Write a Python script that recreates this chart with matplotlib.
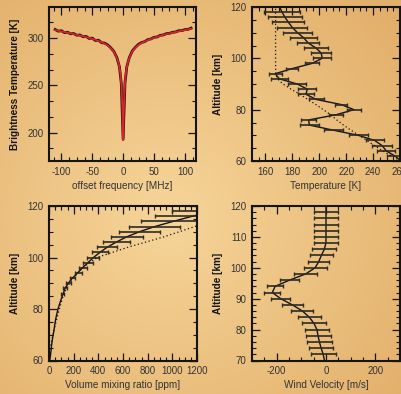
import numpy as np
import matplotlib
matplotlib.use("Agg")
import matplotlib.pyplot as plt
from matplotlib.ticker import MultipleLocator, AutoMinorLocator

plt.rcParams["font.family"] = ["Liberation Sans", "DejaVu Sans"]
plt.rcParams["axes.unicode_minus"] = False

# ── spectrum (top left) ──────────────────────────────────────────────────────
obs_freq = [-110, -105, -100, -95, -90, -85, -80, -75, -70, -65, -60, -55, -50,
            -45, -40, -35, -30, -25, -20, -15, -10, -6, -3, 0, 3, 6,
            10, 15, 20, 25, 30, 35, 40, 45, 50, 55, 60, 65, 70, 75, 80, 85,
            90, 95, 100, 105, 110]
obs_tb = [309.2, 307.4, 307.9, 305.9, 306.3, 304.6, 304.9, 303.1, 303.4, 301.6,
          301.9, 299.7, 300.1, 297.6, 297.9, 295.3, 294.8, 292.9, 289.9, 285.9,
          279.3, 269.8, 252.5, 193.0, 252.4, 269.9,
          279.4, 286.6, 290.4, 293.6, 295.4, 296.4, 298.5, 299.2, 300.9, 301.3,
          303.0, 303.4, 304.8, 305.1, 306.2, 306.6, 307.9, 308.0, 309.1, 309.3,
          310.6]
fit_freq = [-110, -100, -90, -80, -70, -60, -50, -40, -30, -25, -20, -15, -10,
            -8, -6, -5, -4, -3, -2, -1.5, -1, -0.5, 0, 0.5, 1, 1.5, 2, 3, 4, 5,
            6, 8, 10, 15, 20, 25, 30, 40, 50, 60, 70, 80, 90, 100, 110]
fit_tb = [308.5, 307.2, 305.8, 304.3, 302.8, 301.2, 299.4, 297.2, 294.3, 292.3,
          289.5, 285.5, 279.0, 275.0, 269.5, 265.5, 260.0, 252.0, 240.0, 231.0,
          219.0, 204.0, 192.0, 204.0, 219.0, 231.0, 240.0, 252.0, 260.0, 265.5,
          269.5, 275.0, 279.0, 286.0, 290.0, 293.0, 295.0, 298.0, 300.5, 302.5,
          304.3, 305.8, 307.3, 308.6, 310.0]

# ── temperature profile (top right) ──────────────────────────────────────────
temp_alt = [60, 62, 64, 66, 68, 70, 72, 74, 76, 78, 80, 82, 84, 86, 88, 90,
            92, 94, 96, 98, 100, 102, 104, 106, 108, 110, 112, 114, 116, 118, 120]
temp_val = [261.0, 256.0, 249.7, 246.7, 241.2, 229.0, 210.5, 192.6, 192.1, 212.4,
            225.8, 216.2, 197.6, 190.1, 191.1, 183.6, 170.4, 167.2, 179.8, 194.5,
            202.1, 201.5, 197.6, 191.7, 188.4, 183.8, 180.0, 177.1, 174.5, 172.3,
            170.5]
temp_err = [5.4, 6.5, 7.2, 6.7, 6.9, 7.3, 6.9, 5.6, 5.4, 5.0, 4.7, 5.6, 6.1,
            6.6, 6.6, 6.6, 4.8, 4.6, 5.0, 6.9, 7.5, 8.6, 8.4, 10.2, 10.6, 11.2,
            11.9, 12.5, 13.3]          # bars at 62 ... 118 km
prior_alt = [60, 62, 64, 66, 68, 70, 72, 74, 76, 78, 80, 82, 84, 86, 88, 90,
             92, 94, 100, 110, 120]
prior_temp = [260.5, 253.5, 247.0, 241.0, 235.5, 229.5, 223.5, 218.0, 213.0,
              208.5, 203.0, 197.5, 191.5, 185.5, 179.0, 173.0, 169.0, 167.6,
              167.5, 167.5, 167.5]

# ── volume mixing ratio (bottom left) ────────────────────────────────────────
vmr_alt = [60, 62, 64, 66, 68, 70, 72, 74, 76, 78, 80, 82, 84, 86, 88, 90, 92,
           94, 96, 98, 100, 102, 104, 106, 108, 110, 112, 114, 116, 118]
vmr_val = [6, 12, 17, 21, 27, 34, 41, 47, 54, 63, 73, 86, 100, 115, 130, 156,
           190, 232, 272, 316, 360, 413, 472, 546, 629, 733, 856, 1005, 1160, 1330]
vmr_bar_alt = [86, 88, 90, 92, 94, 96, 98, 100, 102, 104, 106, 108, 110, 112,
               114, 116, 118]
vmr_bar_val = [108, 127, 156.5, 192.5, 240, 272.5, 316, 358.5, 413.5, 472.5, 546,
               629.5, 733.5, 856.5, 1022, 1154, 1300]
vmr_bar_err = [10, 15, 20.5, 20.5, 27, 32.5, 38, 50.5, 63.5, 82.5, 108, 130.5,
               166.5, 208.5, 278, 296, 300]
vmr_prior_alt = [60, 64, 68, 72, 76, 80, 84, 88, 92, 96, 100, 104, 108, 112, 114]
vmr_prior = [3, 10, 22, 42, 62, 84, 108, 140, 195, 270, 390, 640, 930, 1180, 1330]

# ── wind (bottom right) ──────────────────────────────────────────────────────
wind_alt = [70, 72, 74, 76, 78, 80, 82, 84, 86, 88, 90, 92, 94, 96, 98, 100,
            102, 104, 106, 108, 110, 112, 114, 116, 118, 120]
wind_val = [-6.0, -11.4, -19.6, -26.8, -32.2, -36.8, -48.8, -67.6, -95.4, -136.2,
            -183.4, -217.6, -206.2, -148.2, -82.8, -44.2, -29.5, -18.8, -6.8,
            -0.3, 0, 0, 0, 0, 0, 0]
wind_err = [51.4, 50, 50.8, 50.6, 50, 48.8, 46, 44.6, 42.6, 39.4, 32, 31.4, 38.6,
            46.8, 46.6, 42.5, 46.8, 49.2, 49.3, 50, 50, 50, 50, 50]  # 72 ... 118 km

INK = "#141414"
BAR = "#2e2a24"
TXT = "#333333"


def style(ax, xmaj, xminor, ymaj, yminor):
    ax.set_facecolor("none")
    for s in ax.spines.values():
        s.set_linewidth(1.5)
        s.set_color(INK)
    ax.xaxis.set_major_locator(MultipleLocator(xmaj))
    ax.xaxis.set_minor_locator(AutoMinorLocator(xminor))
    ax.yaxis.set_major_locator(MultipleLocator(ymaj))
    ax.yaxis.set_minor_locator(AutoMinorLocator(yminor))
    ax.tick_params(which="both", direction="in", top=True, right=True,
                   colors=INK, labelcolor=TXT, labelsize=7, pad=4)
    ax.tick_params(which="major", length=5.5, width=0.9)
    ax.tick_params(which="minor", length=2.6, width=0.8)


def labels(ax, xl, yl):
    ax.set_xlabel(xl, fontsize=7.2, color=TXT, labelpad=3)
    ax.set_ylabel(yl, fontsize=7.2, color="#141414", fontweight="bold", labelpad=5)


fig = plt.figure(figsize=(4.01, 3.94), dpi=100)

# parchment background
bg = fig.add_axes([0, 0, 1, 1], zorder=-10)
yy, xx = np.mgrid[0:1:300j, 0:1:300j]
r = np.clip(np.sqrt(((xx - 0.42) / 0.75) ** 2 + ((yy - 0.45) / 0.75) ** 2), 0, 1)
c_in = np.array([0.965, 0.835, 0.60])
c_out = np.array([0.89, 0.69, 0.42])
img = c_in * (1 - r[..., None]) + c_out * r[..., None]
bg.imshow(img, extent=[0, 1, 0, 1], aspect="auto", origin="lower")
bg.axis("off")

W, H = 401, 394
ax1 = fig.add_axes([49 / W, 233 / H, 147 / W, 154 / H])
ax2 = fig.add_axes([252 / W, 233 / H, 148 / W, 154 / H])
ax3 = fig.add_axes([49 / W, 33.5 / H, 148 / W, 154.5 / H])
ax4 = fig.add_axes([252 / W, 33.5 / H, 148 / W, 154.5 / H])

# top left: spectrum
ax1.plot(obs_freq, obs_tb, color=INK, lw=2.0, zorder=2)
ax1.plot(fit_freq, fit_tb, color="#e0202a", lw=1.3, zorder=3)
ax1.set_xlim(-120, 118)
ax1.set_ylim(170, 333)
style(ax1, 50, 4, 50, 3)
labels(ax1, "offset frequency [MHz]", "Brightness Temperature [K]")

# top right: temperature
ax2.plot(temp_val, temp_alt, color=INK, lw=1.0)
ax2.errorbar(temp_val[1:-1], temp_alt[1:-1], xerr=temp_err, fmt="none",
             ecolor=BAR, elinewidth=1.2, capsize=1.6, capthick=1.0)
ax2.plot(prior_temp, prior_alt, color=INK, lw=0.9, ls=(0, (1, 2)))
ax2.set_xlim(150, 260)
ax2.set_ylim(60, 120)
style(ax2, 20, 4, 20, 4)
labels(ax2, "Temperature [K]", "Altitude [km]")

# bottom left: mixing ratio
ax3.plot(vmr_val, vmr_alt, color=INK, lw=1.0)
ax3.errorbar(vmr_bar_val, vmr_bar_alt, xerr=vmr_bar_err, fmt="none",
             ecolor=BAR, elinewidth=1.2, capsize=1.6, capthick=1.0)
ax3.plot(vmr_prior, vmr_prior_alt, color=INK, lw=0.9, ls=(0, (1, 2)))
ax3.set_xlim(0, 1200)
ax3.set_ylim(60, 120)
style(ax3, 200, 4, 20, 4)
labels(ax3, "Volume mixing ratio [ppm]", "Altitude [km]")

# bottom right: wind
ax4.plot(wind_val, wind_alt, color=INK, lw=1.0)
ax4.errorbar(wind_val[1:-1], wind_alt[1:-1], xerr=wind_err, fmt="none",
             ecolor=BAR, elinewidth=1.2, capsize=1.6, capthick=1.0)
ax4.set_xlim(-300, 300)
ax4.set_ylim(70, 120)
style(ax4, 200, 4, 10, 5)
labels(ax4, "Wind Velocity [m/s]", "Altitude [km]")

fig.savefig("out.png", dpi=100)
